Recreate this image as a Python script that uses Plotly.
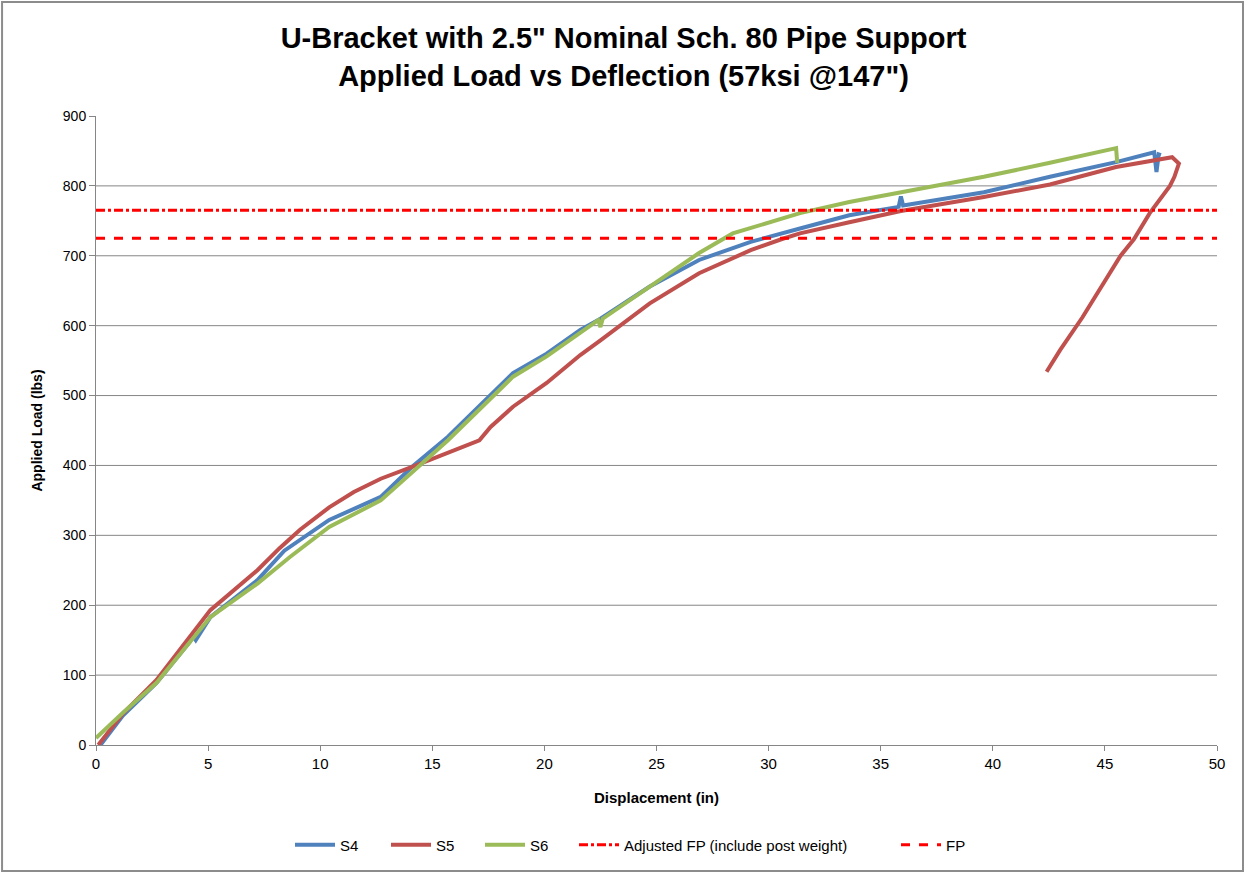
import plotly.graph_objects as go

# Load-deflection traces for the three specimens (displacement in inches, load in lbs)
s4_x = [0.2, 1.2, 2.7, 4.2, 4.3, 4.45, 5.1, 7.2, 8.4, 10.4, 12.7, 14.1, 15.7, 17.1, 18.6,
        20.1, 21.6, 22.5, 24.7, 26.9, 28.4, 29.2, 31.4, 33.6, 35.8, 35.9, 36.0, 39.6, 42.55,
        45.5, 47.2, 47.3, 47.4, 47.5]
s4_y = [0, 42, 89, 148, 157, 150, 183, 236, 278, 322, 355, 398, 441, 484, 532,
        560, 594, 610, 656, 694, 711, 720, 739, 758, 770, 785, 772, 791, 813,
        834, 848, 820, 845, 844]

s5_x = [0.1, 1.2, 2.7, 5.1, 7.2, 8.2, 9.1, 10.4, 11.5, 12.7, 14.1, 15.7, 17.1, 17.6, 18.6,
        20.1, 21.6, 22.5, 24.7, 26.9, 29.2, 30.6, 31.4, 33.6, 35.9, 39.6, 42.55, 45.5, 47.2,
        48.0, 48.3, 48.1, 47.9, 47.0, 46.3, 45.7, 44.0, 43.0, 42.4]
s5_y = [0, 45, 93, 193, 250, 282, 308, 340, 362, 381, 398, 418, 436, 455, 484,
        518, 558, 579, 632, 675, 708, 724, 732, 748, 764, 784, 802, 827, 836,
        841, 832, 813, 800, 761, 724, 700, 612, 565, 534]

s6_x = [0.0, 0.5, 1.2, 2.7, 5.1, 7.2, 8.65, 10.4, 12.7, 15.7, 18.6, 20.1, 22.4, 22.5, 22.6,
        24.7, 26.9, 28.4, 29.2, 31.4, 33.6, 39.6, 42.55, 45.5, 45.55]
s6_y = [10, 25, 46, 89, 183, 231, 269, 312, 350, 436, 527, 556, 608, 598, 610,
        656, 704, 732, 740, 761, 777, 813, 833, 854, 833]

# Reference load levels
adjusted_fp = 765
fp = 725
x_limits = [0, 50]

# Horizontal gridlines (no line at the top of the axis)
grid_levels = [100, 200, 300, 400, 500, 600, 700, 800]

BLUE = "#4F81BD"
RED = "#C0504D"
GREEN = "#9BBB59"
FP_RED = "#FF0000"
NARROW = "Liberation Sans Narrow, Arial Narrow, sans-serif"

fig = go.Figure()

fig.add_trace(go.Scatter(x=s4_x, y=s4_y, mode="lines", name="S4", legend="legend",
                         line=dict(color=BLUE, width=4)))
fig.add_trace(go.Scatter(x=s5_x, y=s5_y, mode="lines", name="S5", legend="legend2",
                         line=dict(color=RED, width=4)))
fig.add_trace(go.Scatter(x=s6_x, y=s6_y, mode="lines", name="S6", legend="legend3",
                         line=dict(color=GREEN, width=4)))
fig.add_trace(go.Scatter(x=x_limits, y=[adjusted_fp, adjusted_fp], mode="lines",
                         name="Adjusted FP (include post weight)", legend="legend4",
                         line=dict(color=FP_RED, width=3, dash="dashdot")))
fig.add_trace(go.Scatter(x=x_limits, y=[fp, fp], mode="lines", name="FP", legend="legend5",
                         line=dict(color=FP_RED, width=3, dash="dash")))

shapes = []
for g in grid_levels:
    shapes.append(dict(type="line", xref="paper", yref="y", x0=0, x1=1, y0=g, y1=g,
                       line=dict(color="#868686", width=1), layer="below"))
# Outer chart border
shapes.append(dict(type="rect", xref="paper", yref="paper",
                   x0=-0.0838, x1=1.0232, y0=-0.2005, y1=1.1812,
                   line=dict(color="#8C8C8C", width=2)))


def legend_at(px_left):
    # one legend box per entry so the entries sit at their own positions
    return dict(orientation="h", x=(px_left - 96) / 1121, xanchor="left",
                y=-0.159, yanchor="middle", bgcolor="rgba(0,0,0,0)",
                font=dict(family=NARROW, size=15), itemwidth=40)


fig.update_layout(
    width=1247, height=875,
    margin=dict(l=96, r=30, t=116, b=130),
    paper_bgcolor="white", plot_bgcolor="white",
    font=dict(family="Liberation Sans, Arial, sans-serif", color="#000000"),
    title=dict(
        text="U-Bracket with 2.5\" Nominal Sch. 80 Pipe Support<br>Applied Load vs Deflection (57ksi @147\")",
        x=0.5, xanchor="center", xref="container",
        y=0.9446, yanchor="middle", yref="container",
        font=dict(family=NARROW, size=29, color="#000000", weight="bold"),
    ),
    shapes=shapes,
    showlegend=True,
    legend=legend_at(290),
    legend2=legend_at(386),
    legend3=legend_at(480),
    legend4=legend_at(574),
    legend5=legend_at(896),
)

fig.update_xaxes(
    range=x_limits, tickmode="array", tickvals=[0, 5, 10, 15, 20, 25, 30, 35, 40, 45, 50],
    showgrid=False, zeroline=False, showline=True, linecolor="#868686", linewidth=1,
    ticks="outside", ticklen=5, tickcolor="#868686",
    tickfont=dict(family=NARROW, size=15),
    title=dict(text="<b>Displacement (in)</b>", standoff=21,
               font=dict(family=NARROW, size=15)),
)
fig.update_yaxes(
    range=[0, 900], tickmode="array",
    tickvals=[0, 100, 200, 300, 400, 500, 600, 700, 800, 900],
    showgrid=False, zeroline=False, showline=True, linecolor="#868686", linewidth=1,
    ticks="outside", ticklen=6, tickcolor="#868686",
    tickfont=dict(family="Liberation Sans, Arial, sans-serif", size=14),
    title=dict(text="<b>Applied Load (lbs)</b>", standoff=16,
               font=dict(family=NARROW, size=14)),
)

fig.write_html("out.html")
